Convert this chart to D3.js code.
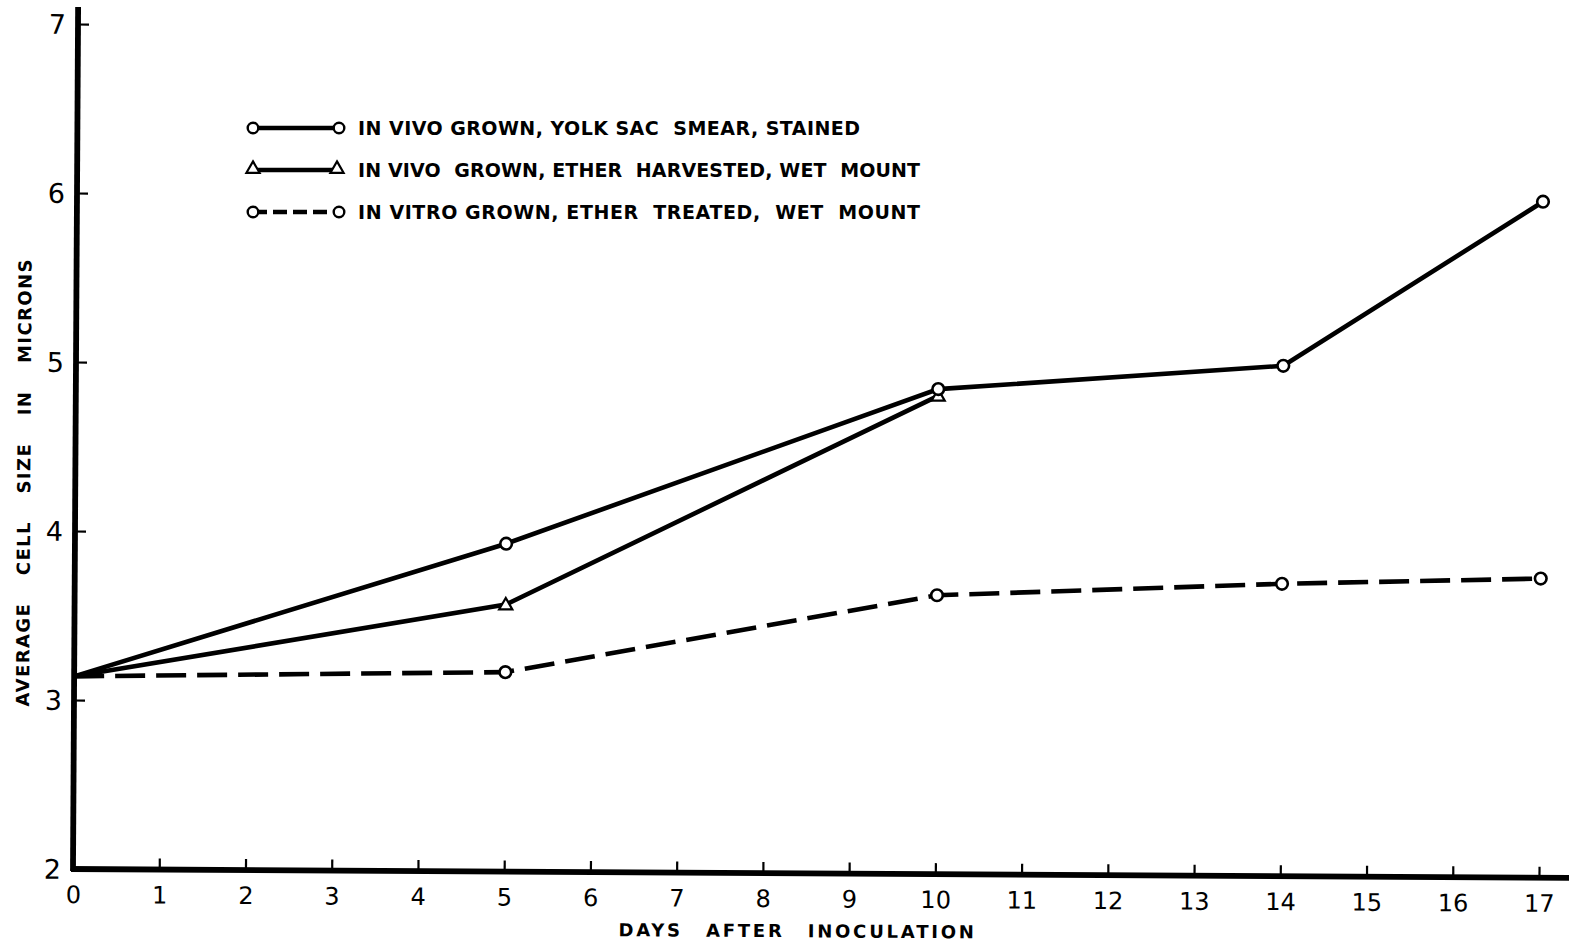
<!DOCTYPE html>
<html>
<head>
<meta charset="utf-8">
<script src="https://cdn.jsdelivr.net/npm/d3@7"></script>
<style>
  html, body { margin: 0; padding: 0; background: #fff; }
  svg { display: block; }
  text { font-family: "DejaVu Sans", "Liberation Sans", sans-serif; fill: #000; }
</style>
</head>
<body>
<svg id="chart" width="1569" height="943"></svg>
<script>
// Average cell size (microns) against days after inoculation
const days = [0, 5, 10, 14, 17];
const yolkSacStained = [3.14, 3.94, 4.87, 5.02, 6.00];
const etherDays = [0, 5, 10];
const etherHarvestedWet = [3.14, 3.58, 4.83];
const inVitroEtherTreated = [3.14, 3.18, 3.65, 3.73, 3.77];

const xTicks = d3.range(0, 18);
const yTicks = [2, 3, 4, 5, 6, 7];

const seriesLabels = [
  "IN VIVO GROWN, YOLK SAC  SMEAR, STAINED",
  "IN VIVO  GROWN, ETHER  HARVESTED, WET  MOUNT",
  "IN VITRO GROWN, ETHER  TREATED,  WET  MOUNT"
];
const xTitle = "DAYS AFTER INOCULATION";
const yTitle = "AVERAGE CELL SIZE IN MICRONS";

const svg = d3.select("#chart");

const origin = { x: 73, y: 869 };
const plotW = 1466, plotH = 845;

const x = d3.scaleLinear().domain([0, 17]).range([0, plotW]);
const y = d3.scaleLinear().domain([2, 7]).range([0, -plotH]);

// the whole drawing sits at a slight clockwise tilt
const g = svg.append("g")
  .attr("transform", `translate(${origin.x},${origin.y}) rotate(0.34)`);

// axis lines
g.append("line").attr("x1", 0).attr("x2", 0).attr("y1", 2).attr("y2", -862)
  .attr("stroke", "#000").attr("stroke-width", 5.8);
g.append("line").attr("x1", -2).attr("x2", 1510).attr("y1", 0).attr("y2", 0)
  .attr("stroke", "#000").attr("stroke-width", 5.8);

// y axis ticks and labels (ticks point inward)
const yAxis = g.append("g")
  .call(d3.axisLeft(y).tickValues(yTicks).tickSize(-11).tickPadding(12).tickFormat(d3.format("d")));
yAxis.select(".domain").remove();
yAxis.selectAll(".tick line").attr("stroke", "#000").attr("stroke-width", 2.2);
yAxis.selectAll(".tick text").attr("font-size", 27).attr("dy", "0.35em")
  .attr("font-family", "DejaVu Sans, sans-serif");

// x axis ticks and labels
const xAxis = g.append("g")
  .call(d3.axisBottom(x).tickValues(xTicks).tickSize(-11).tickPadding(17).tickFormat(d3.format("d")));
xAxis.select(".domain").remove();
xAxis.selectAll(".tick line").attr("stroke", "#000").attr("stroke-width", 2.2);
xAxis.selectAll(".tick text").attr("font-size", 24)
  .attr("font-family", "DejaVu Sans, sans-serif");

// axis titles
g.append("text")
  .attr("x", x(8.5) - 8).attr("y", 64)
  .attr("text-anchor", "middle")
  .attr("font-size", 18).attr("font-weight", 600)
  .attr("letter-spacing", 2.8).attr("word-spacing", 14)
  .text(xTitle);

g.append("text")
  .attr("transform", `translate(-45, ${y(2.96)}) rotate(-90)`)
  .attr("x", 0).attr("y", 0)
  .attr("text-anchor", "start")
  .attr("font-size", 18).attr("font-weight", 600)
  .attr("letter-spacing", 1.4).attr("word-spacing", 20)
  .text(yTitle);

// series lines
const line = d3.line().x(d => x(d[0])).y(d => y(d[1]));

const s1 = days.map((d, i) => [d, yolkSacStained[i]]);
const s2 = etherDays.map((d, i) => [d, etherHarvestedWet[i]]);
const s3 = days.map((d, i) => [d, inVitroEtherTreated[i]]);

const lineW = 4.6;

g.append("path").datum(s3).attr("d", line)
  .attr("fill", "none").attr("stroke", "#000").attr("stroke-width", lineW)
  .attr("stroke-dasharray", "30,11");
g.append("path").datum(s2).attr("d", line)
  .attr("fill", "none").attr("stroke", "#000").attr("stroke-width", lineW);
g.append("path").datum(s1).attr("d", line)
  .attr("fill", "none").attr("stroke", "#000").attr("stroke-width", lineW);

// markers (none at the common starting value on day 0)
const circleR = 5.8;
function drawCircles(data) {
  g.append("g").selectAll("circle").data(data.filter(d => d[0] > 0)).join("circle")
    .attr("cx", d => x(d[0])).attr("cy", d => y(d[1])).attr("r", circleR)
    .attr("fill", "#fff").attr("stroke", "#000").attr("stroke-width", 2.6);
}
const tri = d3.symbol().type(d3.symbolTriangle).size(75);
function drawTriangles(data) {
  g.append("g").selectAll("path").data(data.filter(d => d[0] > 0)).join("path")
    .attr("d", tri)
    .attr("transform", d => `translate(${x(d[0])},${y(d[1]) + 1})`)
    .attr("fill", "#fff").attr("stroke", "#000").attr("stroke-width", 2.2);
}
drawCircles(s3);
drawTriangles(s2);
drawCircles(s1);

// legend
const legend = svg.append("g");
const legendRows = [128, 170, 212];
const legendTextLen = [502, 562, 562];
const lx1 = 253, lx2 = 339;

legendRows.forEach((ly, i) => {
  const row = legend.append("g");
  row.append("line").attr("x1", lx1).attr("x2", lx2).attr("y1", ly).attr("y2", ly)
    .attr("stroke", "#000").attr("stroke-width", 4.4)
    .attr("stroke-dasharray", i === 2 ? "14,6" : null);
  if (i === 1) {
    [lx1, lx2 - 2].forEach(px => {
      row.append("path").attr("d", tri)
        .attr("transform", `translate(${px},${ly - 1})`)
        .attr("fill", "#fff").attr("stroke", "#000").attr("stroke-width", 2.2);
    });
  } else {
    [lx1, lx2].forEach(px => {
      row.append("circle").attr("cx", px).attr("cy", ly).attr("r", 5.3)
        .attr("fill", "#fff").attr("stroke", "#000").attr("stroke-width", 2.4);
    });
  }
  row.append("text")
    .attr("x", 358).attr("y", ly + 7)
    .attr("font-size", 19).attr("font-weight", 600)
    .attr("textLength", legendTextLen[i]).attr("lengthAdjust", "spacing")
    .style("white-space", "pre")
    .text(seriesLabels[i]);
});
</script>
</body>
</html>
